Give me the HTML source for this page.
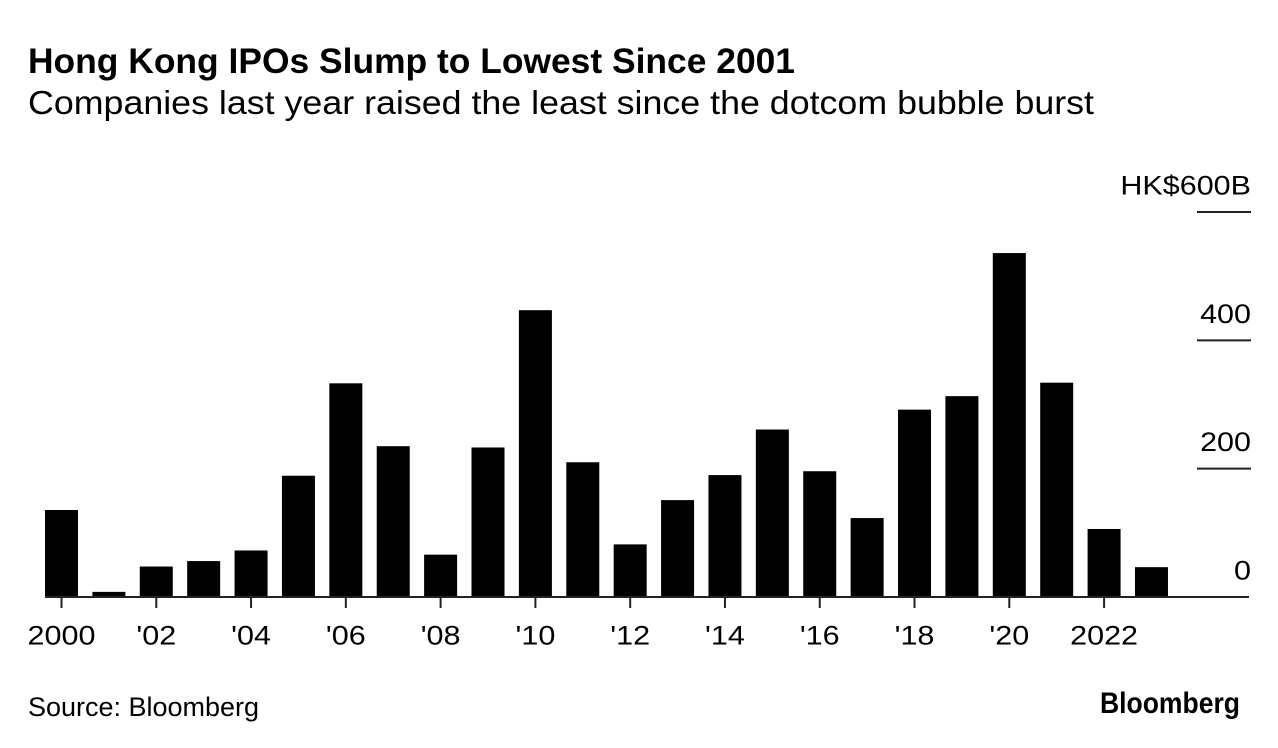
<!DOCTYPE html>
<html lang="en">
<head>
<meta charset="utf-8">
<title>Hong Kong IPOs Slump to Lowest Since 2001</title>
<style>
html,body{margin:0;padding:0;background:#fff;width:1278px;height:748px;overflow:hidden}
svg{display:block}
text{font-family:"Liberation Sans",Arial,sans-serif;fill:#000}
</style>
</head>
<body>
<svg id="chart" width="1278" height="748" viewBox="0 0 1278 748" xmlns="http://www.w3.org/2000/svg">
<rect x="0" y="0" width="1278" height="748" fill="#fff"/>
<text x="28" y="73" font-size="35" font-weight="700" textLength="767" lengthAdjust="spacingAndGlyphs">Hong Kong IPOs Slump to Lowest Since 2001</text>
<text x="28" y="114" font-size="33" textLength="1066" lengthAdjust="spacingAndGlyphs">Companies last year raised the least since the dotcom bubble burst</text>
<g id="bars"></g>
<g id="x-axis"></g>
<g id="y-axis"></g>
<text x="28" y="716" font-size="27" textLength="231" lengthAdjust="spacingAndGlyphs">Source: Bloomberg</text>
<text x="1100" y="713" font-size="30" font-weight="700" textLength="140" lengthAdjust="spacingAndGlyphs">Bloomberg</text>
</svg>
<script>
const years = [2000,2001,2002,2003,2004,2005,2006,2007,2008,2009,2010,2011,2012,2013,2014,2015,2016,2017,2018,2019,2020,2021,2022,2023];
const ipoValues = [135.6,8,47.5,56,72.5,189,333,235,66,233,447,210,82,151,190,261,196,123,292,313,536,334,106,46.5];
const xTickYears = [2000,2002,2004,2006,2008,2010,2012,2014,2016,2018,2020,2022];
const xTickLabels = ["2000","'02","'04","'06","'08","'10","'12","'14","'16","'18","'20","2022"];
const yTickValues = [0,200,400,600];
const yTickLabels = ["0","200","400","HK$600B"];

const NS = 'http://www.w3.org/2000/svg';
const baseY = 597, topY = 212, maxValue = 600;
const firstX = 61.5, stepX = 47.39, barWidth = 33;
const labelStretch = 1.13;
const xScale = function (year) { return firstX + (year - years[0]) * stepX; };
const yScale = function (value) { return baseY - (value / maxValue) * (baseY - topY); };

function make(tag, parent, attrs) {
  const el = document.createElementNS(NS, tag);
  Object.keys(attrs).forEach(function (k) { el.setAttribute(k, attrs[k]); });
  parent.appendChild(el);
  return el;
}
function stretch(label) {
  const w = label.getComputedTextLength();
  label.setAttribute('textLength', (w * labelStretch).toFixed(1));
  label.setAttribute('lengthAdjust', 'spacingAndGlyphs');
}

const barsGroup = document.getElementById('bars');
years.forEach(function (year, i) {
  const y = yScale(ipoValues[i]);
  const bar = make('rect', barsGroup, {x: xScale(year) - barWidth / 2, y: y, width: barWidth, height: baseY - y, fill: '#000'});
  
  
});

const xGroup = document.getElementById('x-axis');
const baseline = make('line', xGroup, {x1: 45, x2: 1249, y1: baseY, y2: baseY, stroke: '#222', 'stroke-width': 2});


xTickYears.forEach(function (year, i) {
  const x = xScale(year);
  const tick = make('line', xGroup, {x1: x, x2: x, y1: baseY, y2: 608, stroke: '#222', 'stroke-width': 2});
  
  
  const label = make('text', xGroup, {x: x, y: 644.5, 'font-size': 27, 'text-anchor': 'middle'});
  label.textContent = xTickLabels[i];
  
  
  stretch(label);
});

const yGroup = document.getElementById('y-axis');
yTickValues.forEach(function (value, i) {
  const y = yScale(value);
  if (value !== 0) {
    const rule = make('line', yGroup, {x1: 1197, x2: 1251, y1: y, y2: y, stroke: '#222', 'stroke-width': 2});
    
    
  }
  const label = make('text', yGroup, {x: 1251, y: y - 17.5, 'font-size': 27, 'text-anchor': 'end'});
  label.textContent = yTickLabels[i];
  
  
  stretch(label);
});
</script>
</body>
</html>
